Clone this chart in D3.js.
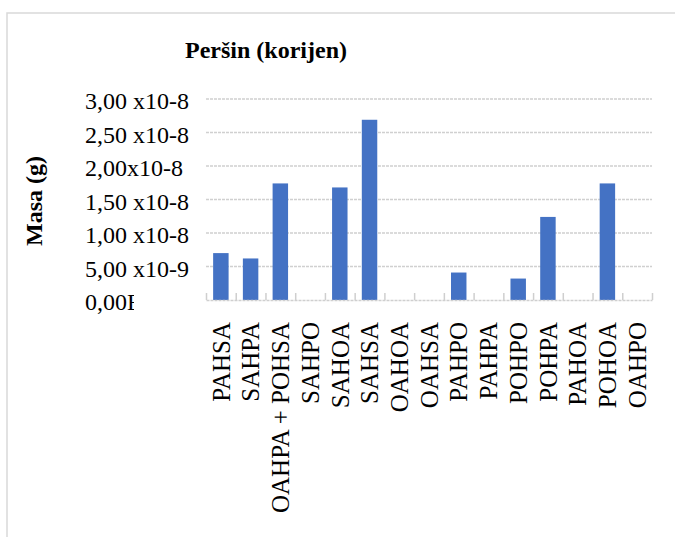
<!DOCTYPE html>
<html>
<head>
<meta charset="utf-8">
<script src="https://cdn.jsdelivr.net/npm/d3@7"></script>
<style>
    body { margin: 0; background: #fff; }
    text { font-family: 'Liberation Serif', 'Times New Roman', serif; fill: #000; }
</style>
</head>
<body>
<svg></svg>
<script>
let categories = ['PAHSA', 'SAHPA', 'OAHPA + POHSA', 'SAHPO', 'SAHOA', 'SAHSA', 'OAHOA', 'OAHSA',
    'PAHPO', 'PAHPA', 'POHPO', 'POHPA', 'PAHOA', 'POHOA', 'OAHPO'];
let masses = [7.0e-9, 6.2e-9, 1.74e-8, 0, 1.68e-8, 2.69e-8, 0, 0,
    4.1e-9, 0, 3.2e-9, 1.24e-8, 0, 1.74e-8, 0];
let tickValues = [0, 5e-9, 1e-8, 1.5e-8, 2e-8, 2.5e-8, 3e-8];
let tickLabels = ['0,00E+00', '5,00 x10-9', '1,00 x10-8', '1,50 x10-8', '2,00x10-8', '2,50 x10-8', '3,00 x10-8'];

let width = 675;
let height = 537;
let plot = { left: 206, right: 652, top: 99, bottom: 300 };

let svg = d3.select('svg').attr('width', width).attr('height', height);

let xScale = d3.scaleBand()
    .domain(categories)
    .range([plot.left, plot.right])
    .paddingInner(0.48)
    .paddingOuter(0.24);
let yScale = d3.scaleLinear().domain([0, 3e-8]).range([plot.bottom, plot.top]);

// chart frame (only top and left edges visible in the crop)
svg.append('path')
    .attr('d', `M7,${height} L7,13 L${width},13`)
    .attr('fill', 'none')
    .attr('stroke', '#d9d9d9')
    .attr('stroke-width', 1.5);

svg.append('text')
    .attr('x', 266)
    .attr('y', 58)
    .attr('text-anchor', 'middle')
    .style('font-size', '24px')
    .style('font-weight', 'bold')
    .text('Peršin (korijen)');

svg.append('text')
    .attr('transform', 'translate(42, 201) rotate(-90)')
    .attr('text-anchor', 'middle')
    .style('font-size', '24px')
    .style('font-weight', 'bold')
    .text('Masa (g)');

// gridlines
svg.append('g')
    .selectAll('line')
    .data(tickValues.slice(1))
    .enter()
    .append('line')
    .attr('x1', plot.left)
    .attr('x2', plot.right)
    .attr('y1', (d) => yScale(d))
    .attr('y2', (d) => yScale(d))
    .attr('stroke', '#d0d0d0')
    .attr('stroke-width', 1.5)
    .attr('stroke-dasharray', '3,1');

svg.append('clipPath')
    .attr('id', 'zero-clip')
    .append('rect')
    .attr('x', 0).attr('y', 0).attr('width', 134).attr('height', height);

svg.append('g')
    .selectAll('text')
    .data(tickValues)
    .enter()
    .append('text')
    .attr('x', 85)
    .attr('y', (d) => yScale(d) + 2)
    .attr('dy', '0.35em')
    .attr('clip-path', (d, i) => (i === 0 ? 'url(#zero-clip)' : null))
    .style('font-size', '24px')
    .text((d, i) => tickLabels[i]);

// bars
svg.append('g')
    .selectAll('rect')
    .data(masses)
    .enter()
    .append('rect')
    .attr('x', (d, i) => xScale(categories[i]))
    .attr('y', (d) => yScale(d))
    .attr('width', xScale.bandwidth())
    .attr('height', (d) => plot.bottom - yScale(d))
    .attr('fill', '#4472c4');

// x axis: baseline with inward ticks at category boundaries
let xAxis = d3.axisTop(d3.scaleLinear().domain([0, categories.length]).range([plot.left, plot.right]))
    .tickValues(d3.range(categories.length + 1))
    .tickSize(7)
    .tickSizeOuter(0)
    .tickFormat('');
let axisG = svg.append('g')
    .attr('transform', `translate(0, ${plot.bottom})`)
    .call(xAxis);
axisG.select('.domain').attr('stroke', '#cfcfcf').attr('stroke-width', 1.5).attr('stroke-dasharray', '3,1');
axisG.selectAll('.tick line').attr('stroke', '#cfcfcf').attr('stroke-width', 1.5);

svg.append('g')
    .selectAll('text')
    .data(categories)
    .enter()
    .append('text')
    .attr('transform', (d) => `translate(${xScale(d) + xScale.bandwidth() / 2}, 322) rotate(-90)`)
    .attr('text-anchor', 'end')
    .attr('dy', '0.35em')
    .style('font-size', '25px')
    .text((d) => d);
</script>
</body>
</html>
